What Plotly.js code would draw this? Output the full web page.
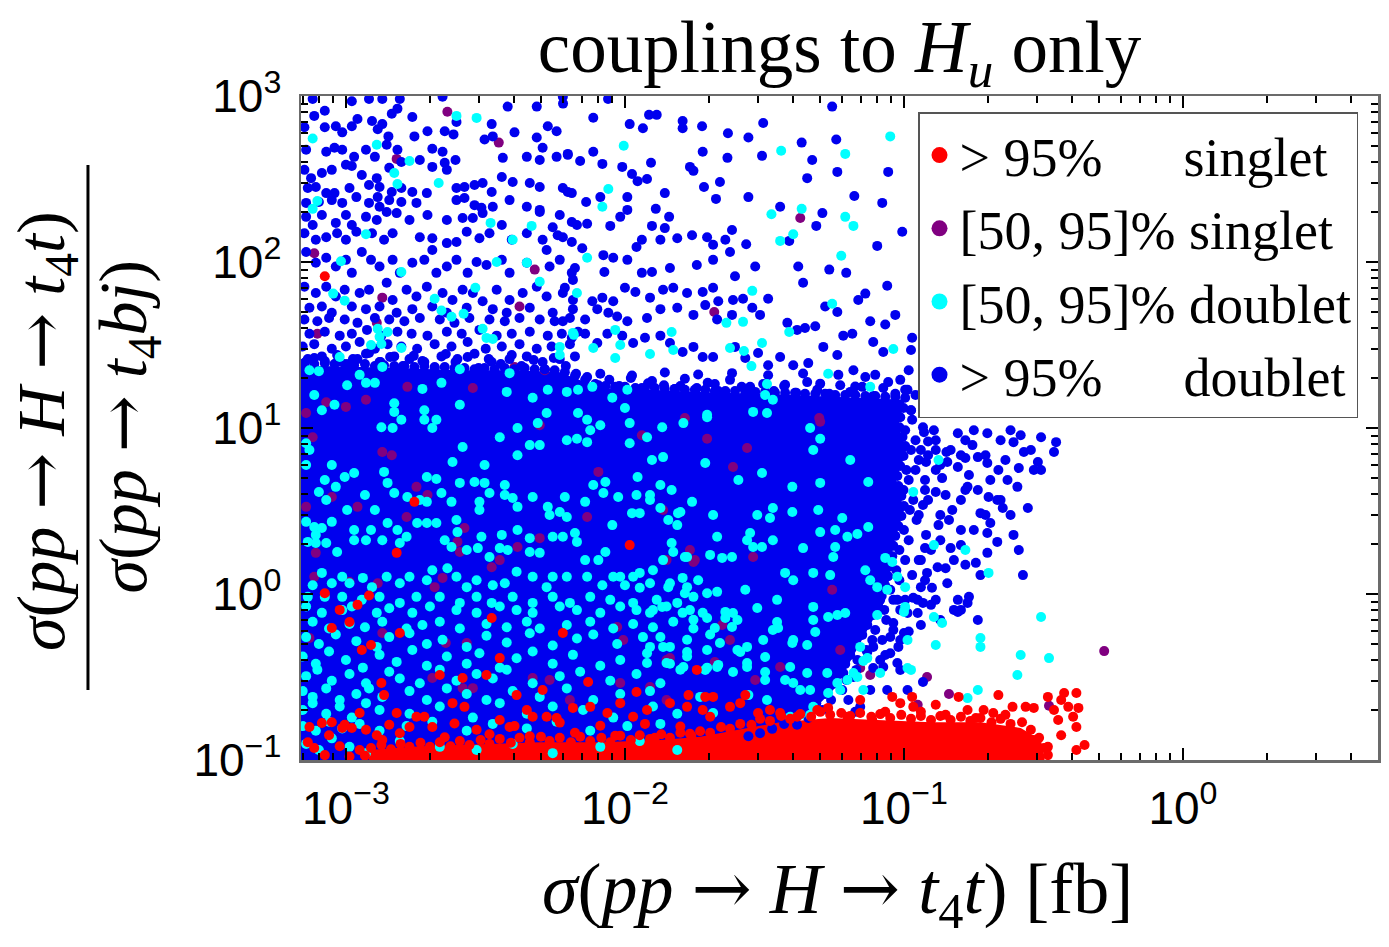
<!DOCTYPE html>
<html>
<head>
<meta charset="utf-8">
<script src="https://cdn.plot.ly/plotly-3.0.1.min.js"></script>
<style>
html,body{margin:0;padding:0;background:#fff;}
#chart{width:1389px;height:947px;}
</style>
</head>
<body>
<div id="chart"></div>
<script>
// ---------------- data ----------------
const seriesNames = [
  '&gt;\u00a095%\u00a0\u00a0\u00a0\u00a0\u00a0\u00a0singlet',
  '[50,\u00a095]%\u00a0singlet',
  '[50,\u00a095]%\u00a0doublet',
  '&gt;\u00a095%\u00a0\u00a0\u00a0\u00a0\u00a0\u00a0doublet'
];

// dense core of the ">95% doublet" cloud (outline of the saturated region)
const blueCoreX = [6.5e-4, 9.5e-4, 1.56e-3, 2.56e-3, 4.19e-3, 5.84e-3, 6.91e-3, 8.16e-3, 1.23e-2, 1.86e-2, 3.05e-2, 5.01e-2, 7.57e-2, 0.101, 0.0955, 0.102, 0.0939, 0.100, 0.0916, 0.0886, 0.0809, 0.0709, 0.0632, 0.0558, 0.0473, 0.0391, 0.0281, 0.0186, 0.00816, 0.00235, 6.5e-4];
const blueCoreY = [23.9, 23.6, 23.0, 22.3, 22.3, 21.7, 19.5, 17.4, 17.0, 16.5, 16.1, 15.6, 15.2, 14.8, 10.4, 7.37, 4.86, 3.21, 1.97, 1.21, 0.802, 0.528, 0.374, 0.264, 0.200, 0.163, 0.135, 0.123, 0.115, 0.09, 0.09];

// dense core of the ">95% singlet" band at the bottom
const redCoreX = [1.21e-3, 1.21e-3, 1.84e-3, 3.01e-3, 4.95e-3, 8.16e-3, 1.34e-2, 1.86e-2, 2.59e-2, 3.60e-2, 5.44e-2, 8.22e-2, 0.125, 0.188, 0.262, 0.310, 0.323];
const redCoreY = [0.09, 0.115, 0.121, 0.125, 0.128, 0.128, 0.132, 0.138, 0.152, 0.169, 0.179, 0.174, 0.169, 0.169, 0.156, 0.132, 0.09];

// >95% doublet, individual points
const blueX = [
  7.6e-4, 1.05e-3, 1.21e-3, 1.35e-3, 1.56e-3, 2.22e-3, 3.80e-3, 4.83e-3, 5.99e-3,
  8.4e-4, 7.7e-4, 1.10e-3, 1.24e-3, 1.35e-3, 1.46e-3, 1.53e-3, 1.73e-3, 1.96e-3, 2.49e-3, 3.33e-3, 4.02e-3, 5.29e-3, 5.69e-3,
  7.1e-4, 8.4e-4, 9.2e-4, 9.7e-4, 1.05e-3, 1.30e-3, 1.42e-3, 1.76e-3, 2.26e-3, 2.43e-3, 3.14e-3, 3.36e-3, 4.83e-3, 5.07e-3,
  7.2e-4, 8.5e-4, 9.1e-4, 9.7e-4, 1.07e-3, 1.18e-3, 1.27e-3, 1.40e-3, 1.53e-3, 2.04e-3, 2.22e-3, 2.47e-3, 3.65e-3, 4.45e-3, 4.95e-3, 5.69e-3, 6.24e-3,
  7.1e-4, 7.5e-4, 8.2e-4, 8.9e-4, 1.0e-3, 1.05e-3, 1.14e-3, 1.29e-3, 1.43e-3, 1.58e-3, 1.84e-3, 2.04e-3, 2.26e-3, 2.30e-3, 2.49e-3, 2.66e-3, 2.89e-3, 3.09e-3, 3.33e-3, 3.62e-3, 3.96e-3, 4.56e-3, 4.95e-3, 6.24e-3,
  7.3e-4, 7.8e-4, 8.5e-4, 9.1e-4, 1.03e-3, 1.21e-3, 1.32e-3, 1.46e-3, 1.58e-3, 1.73e-3, 1.95e-3,
  7.2e-4, 8.0e-4, 8.9e-4, 9.7e-4, 1.09e-3, 1.21e-3, 1.30e-3, 1.32e-3, 1.43e-3, 1.58e-3, 1.79e-3, 2.49e-3, 2.66e-3, 2.89e-3, 3.06e-3, 3.36e-3, 3.86e-3, 4.45e-3, 4.95e-3, 5.84e-3,
  7.2e-4, 7.6e-4, 8.2e-4, 9.2e-4, 1.0e-3, 1.05e-3, 1.18e-3, 1.29e-3, 1.40e-3, 1.52e-3, 1.69e-3, 1.96e-3, 2.30e-3, 2.62e-3, 2.85e-3, 3.09e-3, 3.62e-3, 4.95e-3, 5.51e-3, 6.73e-3,
  7.1e-4, 7.8e-4, 8.5e-4, 9.3e-4, 1.0e-3, 1.09e-3, 1.24e-3, 1.37e-3, 1.47e-3, 1.84e-3, 2.04e-3, 2.30e-3, 2.49e-3, 2.71e-3, 3.01e-3, 3.27e-3, 3.93e-3, 4.45e-3, 5.07e-3, 5.74e-3, 6.45e-3,
  7.2e-4, 7.8e-4, 8.5e-4, 9.2e-4, 1.0e-3, 1.05e-3, 1.14e-3, 1.23e-3, 1.32e-3, 1.47e-3, 1.56e-3, 1.73e-3, 1.91e-3, 2.04e-3, 2.11e-3, 2.30e-3, 2.49e-3, 2.73e-3, 2.94e-3, 3.19e-3, 3.62e-3, 3.86e-3, 4.45e-3, 5.24e-3, 5.37e-3, 5.84e-3, 6.45e-3,
  7.1e-4, 7.8e-4, 8.5e-4, 9.2e-4, 9.9e-4, 1.12e-3, 1.21e-3, 1.40e-3, 1.47e-3, 1.65e-3, 1.79e-3, 1.95e-3, 2.22e-3, 2.41e-3, 2.62e-3, 2.85e-3, 3.09e-3, 3.47e-3, 3.86e-3, 4.30e-3, 4.83e-3, 5.24e-3, 5.99e-3, 6.51e-3,
  7.4e-4, 8.2e-4, 8.9e-4, 1.05e-3, 1.18e-3, 1.32e-3, 1.52e-3, 1.73e-3, 2.04e-3, 2.30e-3, 2.71e-3, 3.36e-3, 3.77e-3, 4.56e-3, 5.51e-3,
  7.1e-4, 7.9e-4, 8.7e-4, 9.9e-4, 1.10e-3, 1.27e-3, 1.43e-3, 1.62e-3, 1.84e-3, 2.17e-3, 2.45e-3, 2.77e-3, 3.27e-3, 3.71e-3, 4.19e-3, 4.95e-3, 5.60e-3, 6.35e-3,
  7.4e-4, 8.4e-4, 9.5e-4, 1.05e-3, 1.19e-3, 1.34e-3, 1.53e-3, 1.72e-3, 1.96e-3, 2.30e-3, 2.60e-3, 3.01e-3, 3.47e-3, 3.93e-3, 4.56e-3, 5.29e-3, 5.94e-3, 6.79e-3,
  7.0e-4, 7.7e-4, 8.9e-4, 1.0e-3, 1.12e-3, 1.27e-3, 1.41e-3, 1.58e-3, 1.80e-3, 2.08e-3, 2.39e-3, 2.73e-3, 3.17e-3, 3.62e-3, 4.19e-3, 4.83e-3, 5.46e-3, 6.35e-3,
  7.3e-4, 8.2e-4, 9.3e-4, 1.06e-3, 1.18e-3, 1.32e-3, 1.49e-3, 1.69e-3, 1.91e-3, 2.20e-3, 2.51e-3, 2.89e-3, 3.33e-3, 3.86e-3, 4.45e-3, 5.07e-3, 5.84e-3, 6.62e-3,
  6.0e-3, 8.7e-3, 7.7e-3, 1.04e-2, 1.16e-2, 1.22e-2, 1.30e-2, 1.61e-2, 1.61e-2, 1.89e-2, 2.34e-2, 2.77e-2, 3.13e-2, 5.53e-2, 4.30e-2, 5.72e-2,
  6.24e-3, 7.70e-3, 6.91e-3, 8.30e-3, 9.78e-3, 1.06e-2, 1.11e-2, 1.20e-2, 1.24e-2, 1.71e-2, 1.76e-2, 1.90e-2, 2.33e-2, 2.19e-2, 1.92e-2, 3.10e-2, 4.69e-2, 4.50e-2, 5.77e-2, 8.78e-2,
  5.99e-3, 6.45e-3, 7.26e-3, 8.16e-3, 1.02e-2, 1.39e-2, 1.29e-2, 1.02e-2, 9.62e-3, 6.45e-3, 7.32e-3, 8.86e-3, 1.25e-2, 1.44e-2, 2.12e-2, 2.77e-2, 3.60e-2, 5.10e-2, 4.85e-2, 6.64e-2, 8.36e-2, 9.86e-2, 8.02e-2,
  5.99e-3, 7.03e-3, 8.37e-3, 9.08e-3, 1.02e-2, 1.10e-2, 1.15e-2, 1.34e-2, 1.39e-2, 1.54e-2, 1.74e-2, 1.97e-2, 2.07e-2, 2.29e-2, 2.42e-2, 2.38e-2, 2.07e-2, 2.72e-2, 1.81e-2, 1.45e-2, 1.25e-2, 1.15e-2, 8.44e-3, 6.62e-3, 6.51e-3, 2.93e-2, 2.48e-2, 4.18e-2, 4.35e-2, 5.40e-2, 6.21e-2, 3.88e-2, 8.71e-2, 7.27e-2, 6.86e-2,
  6.09e-3, 7.64e-3, 8.30e-3, 9.08e-3, 1.0e-2, 1.09e-2, 1.23e-2, 1.37e-2, 1.49e-2, 1.67e-2, 1.90e-2, 2.07e-2, 2.16e-2, 1.94e-2, 2.44e-2, 2.65e-2, 2.86e-2, 3.26e-2, 3.05e-2, 2.42e-2, 2.14e-2, 1.76e-2, 1.54e-2, 1.34e-2, 1.20e-2, 1.02e-2, 9.38e-3, 8.72e-3, 7.96e-3, 7.20e-3, 6.51e-3, 5.99e-3,
  3.82e-2, 4.14e-2, 4.42e-2, 4.81e-2, 5.22e-2, 5.77e-2, 7.57e-2, 8.57e-2, 9.31e-2, 6.53e-2, 6.06e-2, 0.107, 0.106, 8.43e-2, 7.76e-2,
  6.45e-3, 7.20e-3, 7.96e-3, 8.65e-3, 9.78e-3, 1.07e-2, 1.18e-2, 1.34e-2, 1.45e-2, 1.61e-2, 1.76e-2, 1.90e-2, 2.07e-2, 2.48e-2, 2.70e-2, 3.00e-2, 3.26e-2, 3.60e-2, 4.01e-2, 4.54e-2, 5.14e-2, 5.77e-2, 6.59e-2, 7.27e-2, 7.89e-2, 8.78e-2, 9.70e-2, 0.104,
  7.20e-3, 9.23e-3, 1.21e-2, 1.58e-2, 2.10e-2, 2.81e-2, 3.75e-2, 5.01e-2, 6.69e-2, 8.16e-3, 1.06e-2, 1.39e-2, 1.83e-2, 2.42e-2, 3.26e-2, 4.35e-2, 5.82e-2,
  0.103, 0.110, 0.106, 0.117, 0.128, 0.156, 0.166, 0.178, 0.199, 0.222, 0.241, 0.262, 0.269, 0.247, 0.310, 0.351, 0.345, 0.302, 0.292, 0.258, 0.255, 0.235, 0.218, 0.199, 0.184, 0.166, 0.156, 0.143,
  0.204, 0.216, 0.226, 0.278, 0.201, 0.184, 0.169, 0.160, 0.149, 0.188, 0.178, 0.204, 0.199, 0.216, 0.247, 0.258, 0.199, 0.181, 0.166, 0.188, 0.267, 0.151, 0.147, 0.135, 0.125, 0.132, 0.121, 0.143, 0.126, 0.115,
  0.117, 0.108, 0.103, 0.112, 0.156, 0.171, 0.160, 0.151, 0.135, 0.184, 0.097, 0.0916, 0.100, 0.0955, 0.0893, 0.0947, 0.0970, 0.0843,
  0.115, 0.130, 0.119, 0.141, 0.113, 0.133, 0.115, 0.160, 0.130, 0.110, 0.147, 0.231, 0.171, 0.285,
  0.0822, 0.0947, 0.112, 0.125, 0.156, 0.169, 0.104, 0.0916, 0.0893, 0.0836, 0.0776, 0.0739, 0.0822, 0.0776, 0.0871, 0.103, 0.117, 0.0606, 0.0659, 0.0632, 0.0697,
  // points just above the top of the saturated region
  7.1e-4, 7.7e-4, 8.4e-4, 9.3e-4, 1.02e-3, 1.10e-3, 1.21e-3, 1.33e-3, 1.44e-3, 1.60e-3, 1.75e-3, 1.88e-3, 2.08e-3, 2.28e-3, 2.47e-3, 2.73e-3, 2.99e-3, 3.25e-3, 3.59e-3, 3.93e-3, 4.26e-3, 4.71e-3, 5.16e-3, 5.56e-3, 6.14e-3, 6.68e-3, 7.32e-3, 8.03e-3, 8.79e-3, 9.54e-3, 1.05e-2, 1.15e-2, 1.25e-2, 1.38e-2, 1.51e-2, 1.64e-2, 1.81e-2, 1.98e-2, 2.16e-2, 2.38e-2, 2.62e-2, 2.84e-2, 3.13e-2, 3.42e-2, 3.72e-2, 4.11e-2, 4.50e-2, 4.89e-2, 5.40e-2, 5.91e-2, 6.42e-2, 7.09e-2, 7.76e-2, 8.43e-2, 9.31e-2, 0.101,
  // points on the top edge of the saturated region
  7.1e-4, 7.7e-4, 8.4e-4, 9.1e-4, 9.9e-4, 1.07e-3, 1.17e-3, 1.27e-3, 1.37e-3, 1.49e-3, 1.62e-3, 1.76e-3, 1.91e-3, 2.08e-3, 2.26e-3, 2.45e-3, 2.66e-3, 2.89e-3, 3.14e-3, 3.41e-3, 3.71e-3, 4.02e-3, 4.37e-3, 4.75e-3, 5.16e-3, 5.60e-3, 6.09e-3, 6.62e-3, 7.20e-3, 7.83e-3, 8.51e-3, 9.23e-3, 1.00e-2, 1.09e-2, 1.18e-2, 1.28e-2, 1.39e-2, 1.51e-2, 1.64e-2, 1.78e-2, 1.94e-2, 2.10e-2, 2.29e-2, 2.48e-2, 2.70e-2, 2.93e-2, 3.18e-2, 3.45e-2, 3.75e-2, 4.07e-2, 4.42e-2, 4.81e-2, 5.22e-2, 5.67e-2, 6.16e-2, 6.69e-2, 7.27e-2, 7.89e-2, 8.57e-2, 9.31e-2, 0.101,
  // points along the right side of the saturated region
  0.106, 0.107, 0.101, 0.110, 0.106, 0.113, 0.102, 0.104, 0.0996, 0.108, 0.105, 0.111, 0.100, 0.104, 0.0963, 0.101, 0.0939, 0.0963, 0.0893, 0.0916, 0.0850, 0.0864, 0.0789, 0.0770, 0.0733, 0.0681, 0.0675, 0.0622, 0.0601, 0.0548, 0.0510, 0.0454, 0.0414,
  0.0996, 0.0970, 0.0963, 0.0988, 0.101, 0.0996, 0.0970, 0.0947, 0.0955, 0.0979, 0.100, 0.0979, 0.0955, 0.0931, 0.0916, 0.0908, 0.0893, 0.0878, 0.0857, 0.0832, 0.0809, 0.0776, 0.0739, 0.0709, 0.0675, 0.0642, 0.0616, 0.0587, 0.0558, 0.0522, 0.0485, 0.0446, 0.0407, 0.0372, 0.0337, 0.0305, 0.0277,
  0.122, 0.142, 0.120, 0.137, 0.122, 0.145, 0.120, 0.141, 0.119, 0.130, 0.115, 0.097, 0.0857, 0.0757, 0.0669, 0.160, 0.176, 0.196, 0.166, 0.196, 0.160, 0.222, 0.310, 0.241,
  0.118, 0.130, 0.122, 0.135, 0.119, 0.130, 0.117, 0.135, 0.119, 0.113, 0.107, 0.101
];
const blueY = [
  960, 930, 960, 960, 960, 990, 863, 863, 990,
  815, 759, 727, 707, 677, 781, 839, 748, 613, 697, 677, 604, 658, 613,
  649, 649, 658, 604, 658, 631, 571, 571, 613, 587, 547, 571, 563, 488,
  475, 461, 488, 475, 430, 475, 430, 509, 475, 481, 461, 412, 424, 430, 412, 430, 442,
  359, 320, 344, 359, 385, 379, 334, 320, 369, 400, 412, 374, 396, 359, 279, 283, 291, 299, 264, 325, 303, 299, 283, 264,
  279, 283, 260, 260, 279, 291, 283, 264, 279, 264, 260,
  227, 230, 236, 227, 246, 227, 246, 215, 236, 230, 227, 236, 243, 220, 212, 215, 236, 215, 206, 192,
  187, 167, 192, 172, 192, 167, 187, 179, 200, 197, 179, 192, 179, 184, 184, 197, 167, 200, 162, 167,
  149, 136, 141, 149, 136, 152, 149, 136, 149, 141, 139, 130, 132, 152, 139, 149, 136, 149, 136, 145, 132,
  115, 99, 106, 94, 103, 86, 115, 103, 94, 103, 86, 99, 103, 118, 86, 94, 103, 86, 100, 96, 103, 86, 99, 118, 94, 103, 86,
  71, 65, 71, 62, 68, 65, 68, 75, 59, 68, 62, 71, 65, 59, 68, 65, 58, 68, 59, 65, 71, 62, 65, 59,
  53, 54, 49.5, 54, 52, 54, 49.5, 52, 54, 49.5, 53, 52, 49.5, 53, 49.5,
  45, 44, 46, 45, 43, 46, 45, 44, 46, 45, 43, 46, 45, 44, 46, 45, 44, 46,
  37, 38, 36, 37, 39, 36, 38, 37, 36, 38, 37, 39, 36, 37, 38, 36, 37, 38,
  31, 32, 30, 31, 33, 30, 32, 31, 30, 32, 31, 33, 30, 31, 32, 30, 31, 32,
  26, 27, 25, 26, 28, 25, 27, 26, 25, 27, 26, 28, 25, 26, 27, 25, 26, 27,
  900, 960, 740, 677, 640, 770, 770, 707, 640, 658, 596, 563, 687, 863, 524, 547,
  448, 461, 406, 390, 374, 339, 307, 316, 396, 374, 354, 461, 424, 303, 283, 436, 412, 320, 349, 349,
  279, 260, 230, 246, 246, 260, 209, 206, 187, 174, 170, 165, 165, 187, 240, 246, 215, 197, 165, 250, 227, 152, 125,
  141, 121, 110, 106, 103, 123, 136, 136, 160, 139, 145, 141, 127, 136, 156, 115, 103, 128, 96, 92, 87, 86, 87, 92, 78, 94, 82, 94, 75, 90, 86, 134, 72, 64.5, 59,
  70, 58, 61, 58, 70, 66, 61, 68, 70, 65, 66, 70, 58, 55, 59, 60, 53, 60, 48, 48, 45, 48, 53, 52, 46, 44, 47, 49.5, 52, 45, 52, 44,
  43, 39, 40, 41, 54, 50, 44, 42, 48, 37, 36, 35, 29.5, 28.7, 33,
  35, 37, 32.5, 37, 36, 32.5, 35, 36, 32.5, 28.7, 30.8, 26.8, 26.8, 30.8, 26.4, 28.3, 23.9, 26.8, 23.9, 24.6, 30.8, 27.5, 22.3, 20.3, 20.9, 18.9, 19.5, 22.3,
  18.1, 17.6, 18.6, 17.9, 18.4, 17.7, 18.2, 18.5, 17.8, 21.2, 20.7, 21.6, 21.0, 21.4, 20.8, 21.3, 20.9,
  17.0, 15.8, 12.8, 10.1, 9.70, 9.29, 8.44, 9.70, 9.29, 8.44, 9.70, 9.04, 7.17, 8.22, 8.80, 8.22, 7.17, 6.24, 5.59, 5.74, 4.42, 4.86, 5.59, 6.15, 6.68, 6.59, 5.82, 6.24,
  4.86, 3.68, 3.30, 3.30, 3.84, 4.23, 4.42, 3.68, 3.21, 3.07, 2.43, 2.68, 2.33, 2.06, 2.27, 1.84, 1.77, 1.54, 1.50, 1.30, 1.30, 1.60, 1.89, 2.11, 1.84, 1.45, 1.34, 1.16, 1.09, 1.10,
  0.884, 0.948, 0.769, 0.769, 0.922, 0.961, 0.802, 0.802, 0.698, 0.698, 0.802, 0.669, 0.582, 0.480, 0.44, 0.384, 0.349, 0.363,
  7.37, 5.59, 4.23, 3.95, 2.99, 2.60, 1.60, 2.43, 7.37, 5.59, 7.37, 6.41, 5.21, 7.37,
  0.922, 0.922, 0.922, 0.86, 0.78, 0.884, 0.594, 0.607, 0.551, 0.528, 0.48, 0.447, 0.40, 0.358, 0.264, 0.264, 0.295, 0.334, 0.316, 0.230, 0.209,
  24.6, 26.4, 25.3, 27.5, 24.3, 26.0, 28.3, 25.0, 26.8, 23.6, 27.2, 25.3, 23.3, 27.9, 25.0, 26.8, 23.0, 26.0, 24.3, 27.5, 23.6, 25.7, 22.6, 26.4, 23.6, 21.2, 20.3, 18.1, 19.5, 17.9, 20.0, 17.4, 19.2, 18.1, 17.2, 19.8, 17.4, 18.7, 16.7, 19.5, 17.7, 16.5, 18.4, 16.7, 17.9, 16.3, 18.9, 17.0, 16.1, 18.1, 16.5, 17.7, 15.6, 17.4, 16.1, 17.0,
  24.6, 24.3, 24.6, 24.3, 24.3, 23.9, 24.3, 23.6, 23.9, 23.6, 23.6, 23.3, 23.6, 23.0, 23.3, 23.0, 23.0, 22.6, 23.0, 22.6, 23.0, 22.6, 23.0, 22.6, 22.6, 22.3, 21.7, 20.6, 19.5, 18.4, 17.9, 17.7, 17.7, 17.4, 17.4, 17.4, 17.2, 17.2, 17.0, 17.0, 17.0, 16.7, 16.7, 16.7, 16.5, 16.5, 16.5, 16.3, 16.3, 16.3, 16.1, 16.1, 16.1, 15.8, 15.8, 15.8, 15.6, 15.6, 15.4, 15.4, 15.2,
  12.8, 11.2, 9.70, 8.44, 7.37, 6.41, 5.59, 4.86, 4.23, 3.68, 3.21, 2.79, 2.43, 2.11, 1.84, 1.60, 1.39, 1.21, 1.06, 0.922, 0.802, 0.698, 0.607, 0.528, 0.46, 0.40, 0.349, 0.303, 0.264, 0.230, 0.200, 0.179, 0.163,
  13.2, 11.6, 10.1, 8.83, 7.79, 6.78, 5.90, 5.14, 4.47, 3.89, 3.39, 2.95, 2.57, 2.24, 1.95, 1.69, 1.47, 1.28, 1.12, 0.972, 0.847, 0.748, 0.651, 0.567, 0.493, 0.429, 0.379, 0.330, 0.287, 0.250, 0.220, 0.195, 0.177, 0.165, 0.154, 0.145, 0.139,
  8.3, 7.17, 6.24, 4.99, 3.68, 2.79, 2.27, 1.43, 1.21, 0.922, 0.651, 0.528, 0.429, 0.264, 0.195, 6.86, 7.89, 6.86, 4.23, 2.99, 1.97, 3.68, 5.59, 2.99,
  9.42, 8.44, 6.86, 5.99, 4.86, 4.12, 3.44, 2.99, 1.89, 1.60, 1.30, 0.922
];

// [50,95]% doublet
const cyanX = [
  2.49e-3, 2.94e-3, 1.29e-3, 1.69e-3, 7.6e-4, 1.49e-3, 1.53e-3, 2.15e-3, 7.9e-4, 7.6e-4, 1.18e-3, 3.30e-3, 4.63e-3, 3.96e-3, 3.47e-3, 4.45e-3, 4.95e-3, 9.6e-4, 1.58e-3, 9.0e-4, 9.9e-4, 2.08e-3, 2.91e-3, 2.20e-3, 2.64e-3, 2.39e-3, 3.09e-3, 3.36e-3, 6.73e-3, 6.51e-3, 1.30e-3, 1.41e-3, 1.23e-3, 1.34e-3, 9.5e-4, 1.58e-3, 5.84e-3,
  9.9e-3, 8.72e-3, 8.30e-3, 3.63e-2, 6.16e-2, 8.93e-2, 4.30e-2, 3.35e-2, 4.01e-2, 3.60e-2, 6.16e-2, 6.59e-2, 5.96e-2, 7.32e-3, 2.86e-2, 5.53e-2, 2.31e-2, 2.65e-2, 3.88e-2, 6.56e-3, 9.23e-3, 9.62e-3, 7.70e-3, 1.23e-2, 1.47e-2, 1.49e-2, 2.38e-2, 2.67e-2, 3.10e-2, 2.84e-2, 5.35e-2, 3.23e-2, 3.39e-2, 7.57e-2, 9.16e-2, 1.02e-2, 9.01e-3, 6.79e-3, 6.19e-3, 7.64e-3, 1.0e-2, 1.97e-2, 2.88e-2,
  1.35e-3, 7.4e-4, 8.0e-4, 1.12e-3, 1.01e-3, 1.18e-3, 1.27e-3, 1.88e-3, 2.20e-3, 2.56e-3, 3.86e-3, 3.77e-3, 4.67e-3, 5.29e-3, 9.23e-3, 5.84e-3, 3.19e-3, 1.32e-3,
  7.7e-4, 8.2e-4, 9.1e-4, 1.49e-3, 1.49e-3, 1.34e-3, 1.47e-3, 1.58e-3, 1.91e-3, 1.91e-3, 2.11e-3, 2.04e-3, 2.56e-3, 2.62e-3, 2.41e-3, 2.11e-3, 2.56e-3, 2.89e-3, 3.14e-3, 3.14e-3, 3.56e-3, 4.12e-3, 4.56e-3, 4.95e-3, 4.12e-3, 4.87e-3, 5.24e-3, 6.19e-3, 6.73e-3, 7.32e-3, 7.51e-3, 8.16e-3, 6.79e-3, 7.32e-3, 1.04e-2, 1.04e-2, 1.20e-2, 1.36e-2, 1.62e-2,
  7.2e-4, 7.4e-4, 7.2e-4, 8.9e-4, 9.9e-4, 1.07e-3, 8.4e-4, 8.0e-4, 8.5e-4, 9.2e-4, 1.01e-3, 1.17e-3, 1.27e-3, 1.37e-3, 1.41e-3, 1.49e-3, 1.66e-3, 1.95e-3, 1.84e-3, 1.95e-3, 2.20e-3, 2.39e-3, 3.01e-3, 3.27e-3, 3.01e-3, 3.71e-3, 3.71e-3, 3.96e-3, 4.12e-3, 4.67e-3, 5.29e-3, 5.37e-3, 6.09e-3, 5.84e-3, 6.19e-3, 7.20e-3, 7.70e-3, 8.37e-3, 8.51e-3, 9.46e-3, 1.11e-2, 1.10e-2, 1.23e-2, 1.34e-2, 1.43e-2, 1.55e-2, 1.13e-2, 1.06e-2, 9.01e-3, 1.74e-2,
  7.2e-4, 7.7e-4, 8.2e-4, 7.8e-4, 8.9e-4, 7.3e-4, 7.8e-4, 8.5e-4, 9.3e-4, 1.07e-3, 1.07e-3, 1.18e-3, 1.23e-3, 1.35e-3, 1.41e-3, 1.53e-3, 1.56e-3, 1.65e-3, 1.80e-3, 1.95e-3, 2.11e-3, 2.26e-3, 2.49e-3, 2.51e-3, 2.39e-3, 2.71e-3, 2.97e-3, 3.06e-3, 3.27e-3, 3.56e-3, 3.80e-3, 3.62e-3, 4.12e-3, 4.56e-3, 4.56e-3, 4.95e-3, 5.51e-3, 5.99e-3, 6.73e-3, 6.62e-3, 7.20e-3, 8.03e-3, 8.51e-3,
  9.08e-3, 9.62e-3, 1.07e-2, 1.13e-2, 1.26e-2, 1.37e-2, 1.47e-2, 1.67e-2, 1.61e-2, 1.67e-2, 1.43e-2, 1.13e-2, 1.0e-2, 8.30e-3, 7.32e-3, 6.19e-3, 5.51e-3, 5.24e-3, 4.67e-3, 4.09e-3, 3.71e-3, 3.36e-3, 2.94e-3, 2.71e-3, 2.49e-3, 2.31e-3, 2.04e-3, 1.95e-3, 1.69e-3, 1.56e-3, 1.40e-3, 1.24e-3, 1.15e-3, 1.03e-3, 9.7e-4, 8.9e-4, 8.2e-4, 7.6e-4,
  7.3e-4, 8.4e-4, 9.7e-4, 1.14e-3, 1.32e-3, 1.56e-3, 1.79e-3, 2.17e-3, 2.56e-3, 2.94e-3, 3.33e-3, 3.96e-3, 4.67e-3, 5.51e-3, 6.35e-3, 7.51e-3, 8.86e-3, 1.07e-2, 1.30e-2, 1.54e-2, 1.76e-2,
  7.2e-4, 8.2e-4, 9.7e-4, 1.05e-3, 1.29e-3, 1.43e-3, 1.73e-3, 2.0e-3, 2.49e-3, 2.94e-3, 3.56e-3, 4.09e-3, 4.67e-3, 5.84e-3, 6.73e-3, 8.16e-3, 9.62e-3, 1.10e-2, 1.23e-2, 1.41e-2, 1.71e-2, 1.90e-2,
  7.6e-4, 8.7e-4, 1.03e-3, 1.17e-3, 1.35e-3, 1.65e-3, 1.88e-3, 2.17e-3, 2.56e-3, 3.19e-3, 3.77e-3, 4.45e-3, 4.95e-3, 6.19e-3, 7.51e-3, 9.08e-3, 1.07e-2, 1.26e-2, 1.49e-2, 1.76e-2,
  7.2e-4, 8.0e-4, 9.2e-4, 1.09e-3, 1.29e-3, 1.43e-3, 1.69e-3, 1.95e-3, 2.22e-3, 2.71e-3, 3.19e-3, 3.77e-3, 4.56e-3, 5.51e-3, 6.73e-3, 7.70e-3, 9.38e-3, 1.16e-2, 1.37e-2, 1.67e-2, 2.02e-2,
  7.0e-4, 7.8e-4, 8.7e-4, 1.0e-3, 1.15e-3, 1.32e-3, 1.52e-3, 1.73e-3, 1.95e-3, 2.30e-3, 2.71e-3, 3.01e-3, 3.56e-3, 4.09e-3, 4.67e-3, 5.51e-3, 6.51e-3, 8.16e-3, 9.62e-3, 1.20e-2, 1.45e-2, 1.67e-2, 1.97e-2,
  7.2e-4, 7.9e-4, 8.9e-4, 1.03e-3, 1.18e-3, 1.43e-3, 1.56e-3, 1.84e-3, 2.17e-3, 2.49e-3, 2.94e-3, 3.36e-3, 3.77e-3, 4.67e-3, 5.84e-3, 6.91e-3, 8.86e-3, 1.10e-2, 1.34e-2, 1.58e-2,
  7.0e-4, 7.6e-4, 8.5e-4, 9.5e-4, 1.09e-3, 1.21e-3, 1.35e-3, 1.69e-3, 1.95e-3, 2.30e-3, 2.71e-3, 3.19e-3, 3.96e-3, 4.95e-3, 6.19e-3, 7.70e-3, 9.62e-3, 1.23e-2, 1.86e-2,
  7.0e-4, 7.6e-4, 8.5e-4, 9.5e-4, 1.05e-3, 1.18e-3, 1.32e-3, 1.69e-3, 2.17e-3, 2.85e-3, 3.56e-3, 4.45e-3, 5.51e-3, 7.08e-3, 9.08e-3, 1.26e-2, 1.54e-2,
  7.0e-4, 7.8e-4, 8.7e-4, 9.7e-4, 1.12e-3, 1.32e-3, 1.65e-3, 2.04e-3, 2.71e-3, 3.36e-3, 4.45e-3, 5.69e-3, 7.51e-3, 1.02e-2, 1.34e-2,
  7.2e-4, 8.0e-4, 8.9e-4, 1.03e-3, 1.18e-3, 1.56e-3, 2.17e-3, 2.94e-3, 3.96e-3, 5.51e-3, 8.16e-3, 1.13e-2, 1.54e-2,
  1.97e-2, 3.18e-2, 3.23e-2, 4.61e-2, 5.01e-2, 4.73e-2, 6.42e-2, 7.45e-2, 0.108, 0.133, 5.01e-2, 3.98e-2, 3.10e-2, 2.55e-2, 1.94e-2, 1.37e-2, 1.25e-2, 1.47e-2, 1.23e-2, 1.34e-2, 1.58e-2, 1.54e-2, 2.07e-2, 2.98e-2, 3.39e-2, 3.98e-2, 3.31e-2, 4.93e-2, 6.01e-2, 7.45e-2, 5.67e-2, 6.27e-2, 6.81e-2, 5.01e-2, 2.81e-2, 2.74e-2, 3.39e-2, 2.14e-2,
  1.49e-2, 1.64e-2, 2.02e-2, 2.23e-2, 2.42e-2, 2.88e-2, 3.10e-2, 4.35e-2, 5.58e-2, 5.67e-2, 7.27e-2, 8.57e-2, 9.08e-2, 0.128, 0.166, 0.201, 9.47e-2, 7.57e-2, 8.02e-2, 0.101, 8.71e-2, 5.44e-2, 4.73e-2, 3.75e-2, 4.01e-2, 2.70e-2, 2.14e-2, 1.83e-2, 1.45e-2, 1.64e-2, 1.97e-2, 1.23e-2,
  1.26e-2, 1.36e-2, 1.61e-2, 1.76e-2, 1.97e-2, 2.44e-2, 2.29e-2, 2.53e-2, 2.98e-2, 3.51e-2, 4.73e-2, 4.73e-2, 5.35e-2, 5.77e-2, 6.16e-2, 8.02e-2, 0.101, 0.128, 0.137, 0.310, 0.188, 0.188, 0.130, 0.262, 0.331, 0.255, 0.103, 7.39e-2, 6.97e-2, 4.01e-2, 4.50e-2, 3.54e-2, 3.13e-2, 2.74e-2, 2.53e-2, 2.19e-2, 1.97e-2, 1.67e-2, 1.45e-2, 1.34e-2, 1.23e-2,
  1.20e-2, 1.41e-2, 1.62e-2, 1.94e-2, 2.14e-2, 2.74e-2, 3.18e-2, 3.91e-2, 4.50e-2, 5.31e-2, 6.59e-2, 8.22e-2,
  2.29e-2, 2.10e-2, 2.42e-2, 3.51e-2, 3.39e-2, 4.81e-2, 0.100, 0.184, 0.169, 7.15e-2, 6.81e-2, 6.27e-2, 5.77e-2, 5.91e-2, 5.35e-2, 7.15e-2, 0.103, 3.98e-2, 4.01e-2, 4.25e-2, 4.61e-2, 4.25e-2, 4.61e-2, 3.91e-2, 4.73e-2, 3.23e-2, 2.77e-2, 3.18e-2, 3.75e-2, 2.07e-2, 3.18e-2, 2.74e-2, 2.44e-2, 2.16e-2, 2.59e-2, 0.106
];
const cyanY = [
  759, 738, 509, 406, 555, 344, 295, 299, 233, 209, 147, 172, 165, 136, 100, 99, 76, 101, 87, 64.5, 58.5, 60, 70, 51, 48.8, 46.8, 39.6, 34.4, 65, 37.4, 39.6, 37.9, 31.6, 32.1, 26.8, 30.3, 27.5,
  502, 275, 215, 468, 448, 571, 209, 194, 147, 134, 187, 165, 109, 106, 67, 56, 43, 43.6, 37.9, 36.4, 39, 31.6, 30.3, 27.9, 37.9, 29.5, 30.3, 29.1, 32.5, 23.6, 21.2, 18.4, 14.8, 17.7, 29.9, 17.0, 15.2, 17.0, 16.5, 17.7, 13.2, 12.0, 12.5,
  23.3, 22.3, 22.0, 20.9, 18.1, 18.7, 18.7, 17.2, 18.7, 22.6, 21.4, 16.5, 15.2, 17.0, 26.4, 30.8, 34.9, 35.4,
  15.8, 12.8, 13.8, 14.1, 12.5, 10.1, 10.0, 11.2, 12.8, 11.2, 11.2, 10.0, 13.8, 7.68, 6.24, 4.93, 4.67, 4.73, 4.67, 5.99, 8.80, 10.0, 7.89, 7.89, 6.86, 10.7, 12.3, 8.44, 8.62, 8.22, 9.70, 10.4, 12.3, 11.2, 10.7, 8.10, 8.80, 10.1, 10.7,
  8.10, 7.37, 5.99, 5.99, 5.07, 5.36, 4.86, 4.12, 3.68, 4.42, 3.21, 3.95, 3.21, 5.44, 4.67, 4.06, 3.84, 5.07, 3.68, 3.59, 4.06, 3.59, 3.21, 4.06, 3.59, 4.54, 3.95, 3.79, 3.35, 3.84, 3.35, 2.99, 3.84, 3.12, 2.91, 3.59, 4.54, 4.06, 4.73, 3.84, 5.07, 3.95, 3.95, 4.54, 2.79, 3.07, 3.07, 3.07, 2.60, 3.59,
  2.72, 2.53, 2.50, 2.27, 2.72, 2.06, 2.03, 2.03, 1.79, 2.43, 2.11, 2.11, 2.43, 2.11, 2.68, 2.43, 2.03, 2.21, 2.68, 2.68, 2.68, 2.11, 2.79, 2.36, 1.92, 1.84, 1.89, 2.21, 1.67, 1.89, 1.84, 2.27, 2.43, 2.17, 1.79, 1.77, 2.21, 2.21, 2.06, 2.33, 1.60, 1.60, 1.79,
  1.27, 1.27, 1.27, 1.34, 1.39, 1.60, 2.03, 1.67, 1.25, 1.10, 1.10, 1.09, 1.13, 1.13, 1.27, 1.27, 1.27, 1.10, 1.27, 1.36, 1.16, 1.13, 1.21, 1.10, 1.27, 1.43, 1.39, 1.21, 1.27, 1.16, 1.27, 1.10, 1.25, 1.16, 1.27, 1.16, 1.34, 1.13,
  0.961, 0.961, 0.961, 0.922, 0.961, 0.884, 0.961, 0.961, 0.884, 0.961, 0.884, 0.961, 0.884, 0.961, 0.884, 0.961, 0.922, 0.884, 0.922, 0.884, 0.961,
  0.84, 0.77, 0.80, 0.84, 0.77, 0.82, 0.77, 0.84, 0.80, 0.77, 0.84, 0.80, 0.77, 0.84, 0.80, 0.77, 0.84, 0.80, 0.77, 0.84, 0.80, 0.77,
  0.68, 0.62, 0.66, 0.63, 0.68, 0.62, 0.65, 0.68, 0.62, 0.66, 0.63, 0.68, 0.62, 0.65, 0.68, 0.62, 0.66, 0.63, 0.68, 0.62,
  0.55, 0.50, 0.57, 0.52, 0.48, 0.55, 0.58, 0.50, 0.53, 0.48, 0.56, 0.51, 0.58, 0.49, 0.54, 0.57, 0.50, 0.55, 0.48, 0.53, 0.57,
  0.42, 0.38, 0.45, 0.40, 0.36, 0.43, 0.39, 0.46, 0.37, 0.42, 0.38, 0.44, 0.36, 0.41, 0.45, 0.38, 0.43, 0.37, 0.40, 0.44, 0.38, 0.42, 0.36,
  0.32, 0.35, 0.30, 0.33, 0.29, 0.34, 0.31, 0.29, 0.35, 0.30, 0.33, 0.31, 0.35, 0.29, 0.32, 0.34, 0.30, 0.33, 0.29, 0.35,
  0.26, 0.24, 0.27, 0.23, 0.25, 0.27, 0.24, 0.26, 0.23, 0.27, 0.25, 0.23, 0.26, 0.24, 0.27, 0.23, 0.25, 0.26, 0.24,
  0.20, 0.22, 0.19, 0.21, 0.18, 0.22, 0.20, 0.19, 0.21, 0.18, 0.22, 0.19, 0.21, 0.20, 0.18, 0.21, 0.19,
  0.16, 0.15, 0.17, 0.155, 0.165, 0.15, 0.16, 0.17, 0.15, 0.165, 0.155, 0.17, 0.15, 0.16, 0.165,
  0.125, 0.115, 0.135, 0.12, 0.11, 0.13, 0.12, 0.115, 0.125, 0.11, 0.12, 0.13, 0.115,
  11.6, 15.8, 12.3, 10.0, 8.62, 7.37, 6.41, 4.73, 4.12, 6.41, 4.67, 4.42, 5.36, 4.86, 6.15, 6.68, 6.41, 4.23, 3.68, 3.30, 3.12, 2.60, 2.99, 2.99, 3.30, 3.12, 2.87, 3.21, 2.87, 2.53, 2.43, 2.21, 2.30, 2.36, 2.33, 2.11, 2.11, 2.21,
  1.79, 1.67, 1.72, 1.65, 1.67, 1.92, 1.92, 1.89, 1.67, 1.92, 1.39, 1.65, 1.56, 1.97, 1.84, 1.34, 1.27, 1.21, 1.10, 1.10, 1.06, 1.30, 1.34, 1.34, 1.21, 1.06, 1.03, 1.21, 1.16, 1.01, 1.01, 1.16,
  0.80, 0.836, 0.77, 0.70, 0.717, 0.769, 0.717, 0.698, 0.824, 0.922, 0.836, 0.698, 0.727, 0.748, 0.769, 0.748, 0.836, 0.727, 0.669, 0.727, 0.543, 0.480, 0.493, 0.429, 0.411, 0.325, 0.528, 0.411, 0.48, 0.528, 0.493, 0.624, 0.528, 0.48, 0.46, 0.507, 0.46, 0.447, 0.48, 0.551, 0.48,
  0.384, 0.384, 0.363, 0.349, 0.363, 0.363, 0.339, 0.363, 0.334, 0.334, 0.334, 0.334,
  0.78, 0.624, 0.633, 0.678, 0.607, 0.59, 0.78, 0.264, 0.236, 0.395, 0.316, 0.303, 0.291, 0.264, 0.253, 0.264, 0.358, 0.507, 0.291, 0.264, 0.264, 0.187, 0.187, 0.182, 0.209, 0.230, 0.246, 0.303, 0.303, 0.192, 0.417, 0.384, 0.339, 0.374, 0.447, 0.349
];

// [50,95]% singlet
const purpleX = [2.31e-3, 3.53e-3, 1.52e-3, 7.7e-4, 4.75e-3, 1.35e-3, 4.19e-3, 1.29e-3, 7.9e-4, 4.25e-2, 2.09e-2, 1.64e-2, 4.97e-2, 1.66e-3, 2.85e-3, 1.18e-3, 1.0e-3, 8.5e-4, 7.2e-4, 7.6e-4, 5.16e-3, 4.02e-3, 4.95e-3, 1.15e-2, 1.35e-3, 1.46e-3, 1.79e-3, 8.9e-4, 7.2e-4, 1.10e-3, 1.96e-3, 8.03e-3, 7.32e-3, 1.37e-2, 1.65e-3, 2.66e-3, 2.51e-3, 4.12e-3, 4.95e-3, 7.8e-4, 2.56e-3, 1.71e-2, 1.78e-2, 1.41e-2, 3.56e-3, 3.33e-3, 2.22e-3, 2.08e-3, 1.30e-3, 1.03e-3, 7.7e-4, 1.97e-2, 2.74e-2, 5.01e-2, 2.44e-2, 2.88e-2, 1.76e-2, 5.53e-2, 2.23e-2, 2.38e-2, 1.45e-2, 3.60e-2, 5.91e-2, 6.97e-2, 7.57e-2, 0.121, 7.4e-4, 2.28e-3, 2.71e-3, 2.04e-3, 2.62e-3, 2.85e-3, 9.38e-3, 9.86e-3, 1.41e-2, 1.23e-2, 9.62e-3, 5.37e-3, 4.67e-3, 6.35e-3, 1.41e-2, 1.35e-3, 2.10e-2, 2.93e-2, 0.145, 0.331, 0.522, 0.112];
const purpleY = [804, 524, 418, 113, 90, 61, 54, 43, 37, 184, 50, 11.5, 11.5, 17.7, 17.4, 14.8, 13.4, 14.3, 12.3, 8.80, 22.3, 23.3, 10.4, 9.04, 7.17, 6.86, 4.42, 3.84, 3.35, 3.35, 3.95, 5.44, 2.91, 3.21, 2.91, 2.50, 2.06, 1.92, 2.17, 1.77, 1.79, 1.84, 1.60, 1.60, 1.60, 1.45, 1.25, 1.10, 1.16, 1.18, 1.27, 8.62, 7.57, 10.9, 5.82, 1.67, 1.56, 1.06, 0.651, 0.528, 0.411, 0.363, 0.46, 0.358, 0.325, 0.316, 0.543, 0.507, 0.507, 0.312, 0.271, 0.271, 0.633, 0.528, 0.40, 0.275, 0.291, 0.303, 0.312, 0.230, 0.230, 0.582, 0.389, 0.303, 0.25, 0.212, 0.453, 0.215];

// >95% singlet
const redX = [
  8.4e-4, 1.76e-3, 1.52e-3, 1.04e-2, 8.4e-4, 1.21e-3,
  9.5e-4, 1.10e-3, 1.03e-3, 8.9e-4, 1.23e-3, 1.14e-3, 1.56e-3, 3.33e-3, 5.99e-3, 3.56e-3, 2.17e-3, 2.62e-3, 3.19e-3, 1.34e-3, 1.37e-3, 5.07e-3, 4.09e-3, 7.38e-3, 1.81e-2, 1.10e-2, 1.69e-2, 1.94e-2, 2.07e-2,
  7.4e-4, 7.3e-4, 8.2e-4, 8.9e-4, 9.7e-4, 1.05e-3, 1.12e-3, 1.18e-3, 1.29e-3, 1.43e-3, 1.52e-3, 1.35e-3, 1.79e-3, 1.91e-3, 2.04e-3, 2.41e-3, 2.66e-3, 2.94e-3, 3.56e-3, 3.86e-3, 4.45e-3, 4.67e-3, 5.24e-3, 5.69e-3, 6.51e-3, 7.51e-3, 8.65e-3, 9.62e-3, 1.07e-2, 1.20e-2, 1.45e-2, 1.67e-2, 1.90e-2, 2.02e-2,
  8.7e-4, 1.56e-3, 2.26e-3, 3.27e-3, 4.56e-3, 6.62e-3, 9.23e-3, 1.28e-2, 1.71e-2, 9.9e-4, 1.69e-3, 2.45e-3, 4.02e-3, 5.84e-3, 8.16e-3, 1.18e-2, 1.58e-2, 7.7e-4, 9.5e-4, 1.12e-3, 8.4e-4, 1.03e-3,
  2.38e-2, 2.59e-2, 3.00e-2, 3.31e-2, 3.60e-2, 4.14e-2, 4.89e-2, 5.35e-2, 6.27e-2, 6.97e-2, 7.70e-2, 9.08e-2, 9.70e-2, 0.108, 0.130, 0.157, 0.169, 0.193, 0.218, 0.209, 0.245, 0.273, 0.292, 0.328, 0.366, 0.375, 0.415, 0.345, 0.388, 0.422, 0.404, 0.357, 0.415, 0.366, 0.444, 0.415, 0.328, 0.328, 0.280, 0.292, 0.107, 2.70e-2, 8.57e-2, 0.141, 0.181, 0.115, 0.231,
  // points along the top of the dense band
  1.23e-3, 1.34e-3, 1.45e-3, 1.57e-3, 1.69e-3, 1.85e-3, 2.00e-3, 2.17e-3, 2.37e-3, 2.56e-3, 2.77e-3, 3.04e-3, 3.27e-3, 3.56e-3, 3.90e-3, 4.19e-3, 4.56e-3, 5.00e-3, 5.37e-3, 5.84e-3, 6.40e-3, 6.91e-3, 7.51e-3, 8.23e-3, 8.86e-3, 9.62e-3, 1.05e-2, 1.13e-2, 1.23e-2, 1.35e-2, 1.45e-2, 1.58e-2, 1.73e-2, 1.86e-2, 2.02e-2, 2.21e-2, 2.38e-2, 2.59e-2, 2.84e-2, 3.05e-2, 3.31e-2, 3.63e-2, 3.91e-2, 4.25e-2, 4.65e-2, 5.01e-2, 5.44e-2, 5.96e-2, 6.42e-2, 6.97e-2, 7.64e-2, 8.22e-2, 8.93e-2, 9.78e-2, 0.106, 0.115, 0.125, 0.135, 0.147, 0.160, 0.173, 0.188, 0.206, 0.222, 0.241, 0.265, 0.285, 0.305, 0.318, 1.17e-3
];
const redY = [
  82, 3.59, 1.77, 1.97, 1.01, 0.98,
  0.802, 0.860, 0.678, 0.624, 0.493, 0.460, 0.582, 0.717, 0.582, 0.411, 0.325, 0.312, 0.325, 0.291, 0.246, 0.264, 0.246, 0.295, 0.349, 0.257, 0.246, 0.240, 0.240,
  0.158, 0.128, 0.167, 0.169, 0.156, 0.156, 0.192, 0.152, 0.141, 0.163, 0.192, 0.132, 0.182, 0.182, 0.158, 0.220, 0.209, 0.152, 0.174, 0.158, 0.200, 0.182, 0.182, 0.179, 0.206, 0.209, 0.192, 0.220, 0.182, 0.200, 0.220, 0.209, 0.200, 0.182,
  0.141, 0.145, 0.137, 0.143, 0.139, 0.146, 0.140, 0.136, 0.144, 0.163, 0.158, 0.166, 0.160, 0.168, 0.161, 0.165, 0.159, 0.118, 0.121, 0.115, 0.107, 0.105,
  0.209, 0.220, 0.192, 0.200, 0.192, 0.182, 0.200, 0.206, 0.182, 0.230, 0.174, 0.240, 0.220, 0.209, 0.215, 0.240, 0.200, 0.200, 0.246, 0.192, 0.209, 0.209, 0.206, 0.240, 0.230, 0.253, 0.253, 0.200, 0.209, 0.206, 0.182, 0.174, 0.158, 0.141, 0.123, 0.115, 0.120, 0.107, 0.112, 0.132, 0.240, 0.246, 0.195, 0.187, 0.179, 0.195, 0.187,
  0.118, 0.123, 0.116, 0.125, 0.120, 0.127, 0.120, 0.128, 0.121, 0.130, 0.123, 0.132, 0.125, 0.134, 0.127, 0.136, 0.128, 0.138, 0.130, 0.136, 0.128, 0.138, 0.130, 0.136, 0.128, 0.140, 0.132, 0.141, 0.134, 0.143, 0.136, 0.146, 0.140, 0.149, 0.146, 0.158, 0.154, 0.165, 0.163, 0.177, 0.172, 0.184, 0.177, 0.189, 0.182, 0.195, 0.187, 0.192, 0.184, 0.192, 0.182, 0.189, 0.179, 0.187, 0.177, 0.184, 0.174, 0.184, 0.174, 0.182, 0.172, 0.179, 0.169, 0.177, 0.165, 0.169, 0.152, 0.136, 0.118, 0.106
];

// axis ticks
const xTickVals = [1e-3, 1e-2, 1e-1, 1];
const xTickText = ['10<sup>\u22123</sup>', '10<sup>\u22122</sup>', '10<sup>\u22121</sup>', '10<sup>0</sup>'];
const xMinorVals = [7e-4, 8e-4, 9e-4, 2e-3, 3e-3, 4e-3, 5e-3, 6e-3, 7e-3, 8e-3, 9e-3, 0.02, 0.03, 0.04, 0.05, 0.06, 0.07, 0.08, 0.09, 0.2, 0.3, 0.4, 0.5, 0.6, 0.7, 0.8, 0.9, 2, 3, 4];
const yTickVals = [0.1, 1, 10, 100, 1000];
const yTickText = ['10<sup>\u22121</sup>', '10<sup>0</sup>', '10<sup>1</sup>', '10<sup>2</sup>', '10<sup>3</sup>'];
const yMinorVals = [0.2, 0.3, 0.4, 0.5, 0.6, 0.7, 0.8, 0.9, 2, 3, 4, 5, 6, 7, 8, 9, 20, 30, 40, 50, 60, 70, 80, 90, 200, 300, 400, 500, 600, 700, 800, 900];

// ---------------- styles ----------------
const COL = {red: '#ff0000', purple: '#800080', cyan: '#00ffff', blue: '#0000ee'};
const MS = 10;
const SERIF = 'Liberation Serif, Times New Roman, serif';
const SANS = 'Liberation Sans, Arial, Helvetica, sans-serif';
const ARROW = '<span style="font-family:DejaVu Serif">\u2192</span>';

function pts(x, y, color) {
  return {type: 'scatter', mode: 'markers', x: x, y: y, showlegend: false, hoverinfo: 'skip',
          marker: {size: MS, color: color, line: {width: 0}}, cliponaxis: true};
}
function core(x, y, color) {
  return {type: 'scatter', mode: 'lines', x: x, y: y, fill: 'toself', fillcolor: color,
          line: {width: 0, color: color}, showlegend: false, hoverinfo: 'skip'};
}
function legendOnly(name, color) {
  return {type: 'scatter', mode: 'markers', x: [null], y: [null], name: name, showlegend: true,
          hoverinfo: 'skip', marker: {size: 17, color: color}};
}

const traces = [
  core(blueCoreX, blueCoreY, COL.blue),
  core(redCoreX, redCoreY, COL.red),
  pts(purpleX, purpleY, COL.purple),
  pts(blueX, blueY, COL.blue),
  pts(cyanX, cyanY, COL.cyan),
  pts(redX, redY, COL.red),
  legendOnly(seriesNames[0], COL.red),
  legendOnly(seriesNames[1], COL.purple),
  legendOnly(seriesNames[2], COL.cyan),
  legendOnly(seriesNames[3], COL.blue)
];

const axisCommon = {
  type: 'log', showgrid: false, zeroline: false,
  showline: true, linecolor: '#6b6b6b', linewidth: 2.5, mirror: 'allticks',
  ticks: 'inside', ticklen: 12, tickwidth: 2, tickcolor: '#000',
  tickmode: 'array',
  tickfont: {family: SANS, size: 46, color: '#000'},
  automargin: false, fixedrange: true
};

const layout = {
  width: 1389, height: 947,
  margin: {l: 301, r: 11, t: 96, b: 187, pad: 0},
  paper_bgcolor: '#fff', plot_bgcolor: '#fff',
  showlegend: true,
  title: {
    text: 'couplings to <i>H<sub>u</sub></i> only',
    font: {family: SERIF, size: 73, color: '#000'},
    x: 0.5, xref: 'paper', xanchor: 'center',
    y: 0.978, yref: 'container', yanchor: 'top'
  },
  xaxis: Object.assign({}, axisCommon, {
    range: [-3.161, 0.699],
    tickvals: xTickVals, ticktext: xTickText,
    ticklabelstandoff: 6,
    minor: {tickmode: 'array', tickvals: xMinorVals, ticks: 'inside', ticklen: 7, tickwidth: 2, tickcolor: '#000', showgrid: false}
  }),
  yaxis: Object.assign({}, axisCommon, {
    range: [-1, 3],
    tickvals: yTickVals, ticktext: yTickText,
    ticklabelstandoff: 8,
    minor: {tickmode: 'array', tickvals: yMinorVals, ticks: 'inside', ticklen: 7, tickwidth: 2, tickcolor: '#000', showgrid: false}
  }),
  legend: {
    x: 0.5729, y: 0.9759, xanchor: 'left', yanchor: 'top',
    bgcolor: '#fff', bordercolor: '#555', borderwidth: 1.5,
    font: {family: SERIF, size: 54, color: '#000'},
    itemsizing: 'trace', traceorder: 'normal'
  },
  annotations: [
    {text: '<i>σ</i>(<i>pp</i> ' + ARROW + ' <i>H</i> ' + ARROW + ' <i>t</i><sub>4</sub><i>t</i>) [fb]',
     xref: 'paper', yref: 'paper', x: 0.4986, y: -0.199, xanchor: 'center', yanchor: 'middle',
     showarrow: false, font: {family: SERIF, size: 72, color: '#000'}},
    {text: '<i>σ</i>(<i>pp</i> ' + ARROW + ' <i>H</i> ' + ARROW + ' <i>t</i><sub>4</sub><i>t</i>)',
     xref: 'paper', yref: 'paper', x: -0.2377, y: 0.4955, xanchor: 'center', yanchor: 'middle',
     textangle: -90, showarrow: false, font: {family: SERIF, size: 68, color: '#000'}},
    {text: '<i>σ</i>(<i>pp</i> ' + ARROW + ' <i>t</i><sub>4</sub><i>bj</i>)',
     xref: 'paper', yref: 'paper', x: -0.1621, y: 0.5015, xanchor: 'center', yanchor: 'middle',
     textangle: -90, showarrow: false, font: {family: SERIF, size: 68, color: '#000'}}
  ],
  shapes: [
    {type: 'line', xref: 'paper', yref: 'paper', x0: -0.1978, x1: -0.1978, y0: 0.1054, y1: 0.8961,
     line: {color: '#000', width: 3}}
  ]
};

Plotly.newPlot('chart', traces, layout, {staticPlot: true, displayModeBar: false});
</script>
</body>
</html>
